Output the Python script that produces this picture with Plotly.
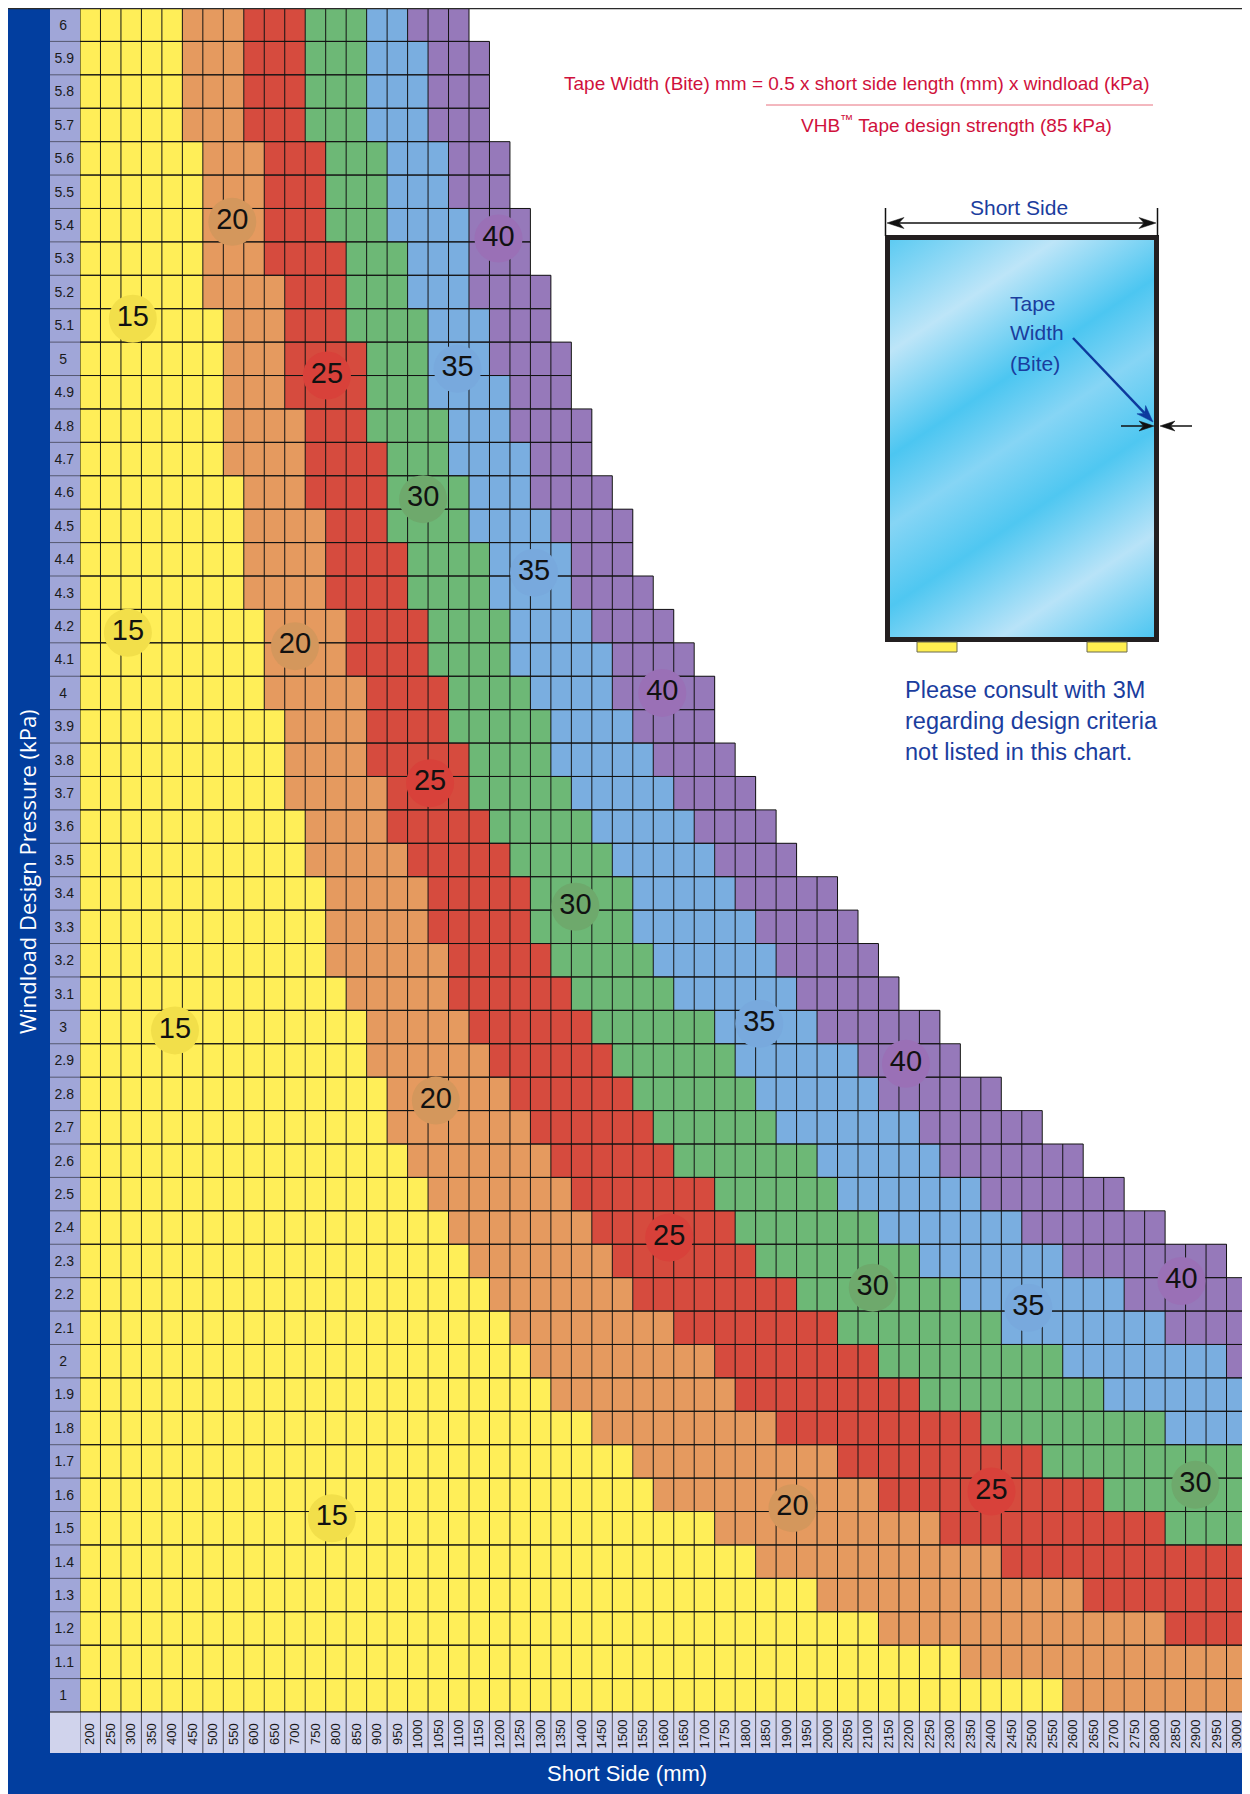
import base64
import plotly.graph_objects as go

# ---------------- data ----------------
short_side = [200, 250, 300, 350, 400, 450, 500, 550, 600, 650, 700, 750, 800, 850, 900, 950,
              1000, 1050, 1100, 1150, 1200, 1250, 1300, 1350, 1400, 1450, 1500, 1550, 1600, 1650,
              1700, 1750, 1800, 1850, 1900, 1950, 2000, 2050, 2100, 2150, 2200, 2250, 2300, 2350,
              2400, 2450, 2500, 2550, 2600, 2650, 2700, 2750, 2800, 2850, 2900, 2950, 3000]

pressure = [6.0, 5.9, 5.8, 5.7, 5.6, 5.5, 5.4, 5.3, 5.2, 5.1,
            5.0, 4.9, 4.8, 4.7, 4.6, 4.5, 4.4, 4.3, 4.2, 4.1,
            4.0, 3.9, 3.8, 3.7, 3.6, 3.5, 3.4, 3.3, 3.2, 3.1,
            3.0, 2.9, 2.8, 2.7, 2.6, 2.5, 2.4, 2.3, 2.2, 2.1,
            2.0, 1.9, 1.8, 1.7, 1.6, 1.5, 1.4, 1.3, 1.2, 1.1,
            1.0]

tape_widths = [15, 20, 25, 30, 35, 40]

# last short side (mm) of each tape-width band, per pressure row (top row = 6 kPa)
max15 = [400, 400, 400, 400, 450, 450, 450, 450, 450, 500,
         500, 500, 500, 500, 550, 550, 550, 550, 600, 600,
         600, 650, 650, 650, 700, 700, 750, 750, 750, 800,
         850, 850, 900, 900, 950, 1000, 1050, 1100, 1150, 1200,
         1250, 1300, 1400, 1500, 1550, 1700, 1800, 1950, 2100, 2300,
         2550]
max20 = [550, 550, 550, 550, 600, 600, 600, 600, 650, 650,
         650, 650, 700, 700, 700, 750, 750, 750, 800, 800,
         850, 850, 850, 900, 900, 950, 1000, 1000, 1050, 1050,
         1100, 1150, 1200, 1250, 1300, 1350, 1400, 1450, 1500, 1600,
         1700, 1750, 1850, 2000, 2100, 2250, 2400, 2600, 2800, 3000,
         3000]
max25 = [700, 700, 700, 700, 750, 750, 750, 800, 800, 800,
         850, 850, 850, 900, 900, 900, 950, 950, 1000, 1000,
         1050, 1050, 1100, 1100, 1150, 1200, 1250, 1250, 1300, 1350,
         1400, 1450, 1500, 1550, 1600, 1700, 1750, 1800, 1900, 2000,
         2100, 2200, 2350, 2500, 2650, 2800, 3000, 3000, 3000, 3000,
         3000]
max30 = [850, 850, 850, 850, 900, 900, 900, 950, 950, 1000,
         1000, 1000, 1050, 1050, 1100, 1100, 1150, 1150, 1200, 1200,
         1250, 1300, 1300, 1350, 1400, 1450, 1500, 1500, 1550, 1600,
         1700, 1750, 1800, 1850, 1950, 2000, 2100, 2200, 2300, 2400,
         2550, 2650, 2800, 3000, 3000, 3000, 3000, 3000, 3000, 3000,
         3000]
max35 = [950, 1000, 1000, 1000, 1050, 1050, 1100, 1100, 1100, 1150,
         1150, 1200, 1200, 1250, 1250, 1300, 1350, 1350, 1400, 1450,
         1450, 1500, 1550, 1600, 1650, 1700, 1750, 1800, 1850, 1900,
         1950, 2050, 2100, 2200, 2250, 2350, 2450, 2550, 2700, 2800,
         2950, 3000, 3000, 3000, 3000, 3000, 3000, 3000, 3000, 3000,
         3000]
max40 = [1100, 1150, 1150, 1150, 1200, 1200, 1250, 1250, 1300, 1300,
         1350, 1350, 1400, 1400, 1450, 1500, 1500, 1550, 1600, 1650,
         1700, 1700, 1750, 1800, 1850, 1900, 2000, 2050, 2100, 2150,
         2250, 2300, 2400, 2500, 2600, 2700, 2800, 2950, 3000, 3000,
         3000, 3000, 3000, 3000, 3000, 3000, 3000, 3000, 3000, 3000,
         3000]

# circled band labels
label_text = ["15", "20", "40", "25", "35", "30", "35", "15", "20", "40", "25", "30",
              "35", "15", "40", "20", "25", "30", "35", "40", "15", "20", "25", "30"]
label_x = [304, 547, 1197, 778, 1097, 1013, 1284, 292, 700, 1597, 1030, 1385,
           1834, 407, 2192, 1044, 1614, 2111, 2491, 2865, 790, 1915, 2401, 2899]
label_y = [5.12, 5.41, 5.36, 4.95, 4.97, 4.58, 4.36, 4.18, 4.14, 4.00, 3.73, 3.36,
           3.01, 2.99, 2.89, 2.78, 2.37, 2.22, 2.16, 2.24, 1.53, 1.56, 1.61, 1.63]

# ---------------- styles ----------------
cell_colors = ["#FFEE58", "#E59A5F", "#D64B3E", "#6DB876", "#7AAEE0", "#9679BA"]
circle_colors = {"15": "#F2DF4A", "20": "#D4975C", "25": "#D8413A",
                 "30": "#6EA96C", "35": "#78A9DD", "40": "#9A70B6"}
NARROW = "Liberation Sans Narrow, Arial Narrow, Liberation Sans, sans-serif"
REG = "Liberation Sans, Arial, sans-serif"
BLUE_FRAME = "#023E9F"
TEXT_BLUE = "#1A3D9E"
CRIMSON = "#D0113C"

# the page adds an 8 px body margin; the figure itself is 8 px smaller
OFF = 8
W, H = 1242, 1786
L, R, T, B = 72, 1239, 0, 1704


def px(xr):
    """reference-page x pixel -> paper x"""
    return (xr - OFF - L) / (R - L)


def py(yr):
    """reference-page y pixel -> paper y"""
    return (B - (yr - OFF)) / (B - T)


# ---------------- build matrix ----------------
bounds = [max15, max20, max25, max30, max35, max40]
z_rows = []
for i, p in enumerate(pressure):
    row = []
    for s in short_side:
        cat = None
        for k, b in enumerate(bounds):
            if s <= b[i]:
                cat = k
                break
        row.append(cat)
    z_rows.append(row)

y_asc = pressure[::-1]
z_asc = z_rows[::-1]

cs = []
n = len(cell_colors)
for k, c in enumerate(cell_colors):
    cs.append([k / n, c])
    cs.append([(k + 1) / n, c])

fig = go.Figure()
fig.add_trace(go.Heatmap(
    x=short_side, y=y_asc, z=z_asc, colorscale=cs, zmin=-0.5, zmax=n - 0.5,
    showscale=False, hoverinfo="skip"))

# grid lines only over coloured cells
hx, hy = [], []
half_x = (short_side[1] - short_side[0]) / 2
half_y = round((pressure[0] - pressure[1]) / 2, 3)
for i, p in enumerate(pressure):
    right = max40[i] + half_x
    for yy in (p - half_y, p + half_y):
        hx += [short_side[0] - half_x, right, None]
        hy += [yy, yy, None]
    for s in short_side:
        if s <= max40[i]:
            hx += [s - half_x, s - half_x, None]
            hy += [p - half_y, p + half_y, None]
    hx += [right, right, None]
    hy += [p - half_y, p + half_y, None]
fig.add_trace(go.Scatter(x=hx, y=hy, mode="lines", line=dict(color="#141414", width=1),
                         hoverinfo="skip", showlegend=False))

fig.add_trace(go.Scatter(
    x=label_x, y=label_y, mode="markers+text", text=label_text,
    textposition="middle center",
    marker=dict(size=48, color=[circle_colors[t] for t in label_text], line=dict(width=0)),
    textfont=dict(family=NARROW, size=29, color="#111111"),
    hoverinfo="skip", showlegend=False, cliponaxis=False))

# ---------------- frame & label bands ----------------
shapes = []
shapes.append(dict(type="rect", xref="paper", yref="paper", x0=px(50), x1=0, y0=0, y1=1,
                   fillcolor="#A0A6D8", line=dict(width=0), layer="below"))
shapes.append(dict(type="rect", xref="paper", yref="paper", x0=px(50), x1=1, y0=py(1753), y1=0,
                   fillcolor="#D0D3EC", line=dict(width=0), layer="below"))
shapes.append(dict(type="rect", xref="paper", yref="paper", x0=px(8), x1=px(50), y0=py(1800), y1=py(8),
                   fillcolor=BLUE_FRAME, line=dict(width=0), layer="below"))
shapes.append(dict(type="rect", xref="paper", yref="paper", x0=px(8), x1=px(1247.5), y0=py(1800), y1=py(1753),
                   fillcolor=BLUE_FRAME, line=dict(width=0), layer="below"))
shapes.append(dict(type="line", xref="paper", yref="paper", x0=px(8), x1=px(1247.5), y0=py(8.6), y1=py(8.6),
                   line=dict(color="#2a2a2a", width=1.5), layer="above"))
shapes.append(dict(type="line", xref="paper", yref="paper", x0=px(1247.5), x1=px(1247.5), y0=py(8), y1=py(1753),
                   line=dict(color="#2a2a2a", width=1.5), layer="above"))
for p in pressure:
    shapes.append(dict(type="line", xref="paper", yref="y", x0=px(50), x1=0,
                       y0=p + half_y, y1=p + half_y, line=dict(color="#555870", width=1), layer="below"))
for s in short_side + [short_side[-1] + 2 * half_x]:
    shapes.append(dict(type="line", xref="x", yref="paper", x0=s - half_x, x1=s - half_x,
                       y0=py(1753), y1=0, line=dict(color="#4a4a58", width=1), layer="below"))
shapes.append(dict(type="line", xref="paper", yref="paper", x0=px(50), x1=1, y0=0, y1=0,
                   line=dict(color="#111111", width=1.2), layer="above"))

# formula fraction line
shapes.append(dict(type="line", xref="paper", yref="paper", x0=px(766), x1=px(1153), y0=py(105), y1=py(105),
                   line=dict(color="#E8707E", width=1), layer="above"))

# ---------------- diagram ----------------
shapes.append(dict(type="line", xref="paper", yref="paper", x0=px(885.5), x1=px(885.5), y0=py(236), y1=py(208),
                   line=dict(color="#111111", width=1.5), layer="above"))
shapes.append(dict(type="line", xref="paper", yref="paper", x0=px(1157.5), x1=px(1157.5), y0=py(236), y1=py(208),
                   line=dict(color="#111111", width=1.5), layer="above"))
for x0 in (917, 1087):
    shapes.append(dict(type="rect", xref="paper", yref="paper", x0=px(x0), x1=px(x0 + 40),
                       y0=py(652), y1=py(642), fillcolor="#FFEF50", line=dict(color="#6b6b50", width=1),
                       layer="above"))


def arrow(x0, y0, x1, y1, color, width, head_len, head_w):
    """line from (x0,y0) to tip (x1,y1) in reference-page pixels, with a barbed head"""
    dx, dy = x1 - x0, y1 - y0
    ln = (dx * dx + dy * dy) ** 0.5
    ux, uy = dx / ln, dy / ln
    nx, ny = -uy, ux
    bx, by = x1 - ux * head_len, y1 - uy * head_len
    mx, my = x1 - ux * head_len * 0.7, y1 - uy * head_len * 0.7
    out = [dict(type="line", xref="paper", yref="paper", x0=px(x0), y0=py(y0), x1=px(mx), y1=py(my),
                line=dict(color=color, width=width), layer="above")]
    pts = [(x1, y1), (bx + nx * head_w, by + ny * head_w), (mx, my), (bx - nx * head_w, by - ny * head_w)]
    path = "M " + " L ".join(f"{px(a):.5f},{py(b):.5f}" for a, b in pts) + " Z"
    out.append(dict(type="path", xref="paper", yref="paper", path=path, fillcolor=color,
                    line=dict(color=color, width=0.5), layer="above"))
    return out


shapes += arrow(1020, 223, 887, 223, "#111111", 1.5, 17, 5.5)
shapes += arrow(1020, 223, 1156, 223, "#111111", 1.5, 17, 5.5)
shapes += arrow(1073, 338, 1153, 422, "#0D3A9E", 2.5, 17, 6)
shapes += arrow(1121, 426, 1154, 426, "#111111", 1.5, 15, 5)
shapes += arrow(1192, 426, 1160, 426, "#111111", 1.5, 15, 5)

svg = '''<svg xmlns="http://www.w3.org/2000/svg" width="274" height="407" viewBox="0 0 274 407" preserveAspectRatio="none">
<defs><linearGradient id="g" x1="0" y1="0" x2="0.54" y2="1.2">
<stop offset="0" stop-color="#5ACAF2"/>
<stop offset="0.2" stop-color="#BDE5F8"/>
<stop offset="0.38" stop-color="#4CC6F1"/>
<stop offset="0.5" stop-color="#86D5F5"/>
<stop offset="0.64" stop-color="#4FC7F1"/>
<stop offset="0.82" stop-color="#B8E3F8"/>
<stop offset="1" stop-color="#4CC6F1"/>
</linearGradient></defs>
<rect x="2.5" y="2.5" width="269" height="402" fill="url(#g)" stroke="#231F20" stroke-width="5"/>
</svg>'''
img_src = "data:image/svg+xml;base64," + base64.b64encode(svg.encode()).decode()


def note(x, y, text, size, color, family=REG, xanchor="left", angle=0):
    return dict(x=px(x), y=py(y), xref="paper", yref="paper", showarrow=False, text=text,
                textangle=angle, font=dict(family=family, size=size, color=color),
                xanchor=xanchor, yanchor="middle")


annotations = [
    note(857, 83, "Tape Width (Bite) mm = 0.5 x short side length (mm) x windload (kPa)",
         19, CRIMSON, NARROW, "center"),
    note(956, 124, "VHB<sup>™</sup> Tape design strength (85 kPa)", 19, CRIMSON, NARROW, "center"),
    note(1019, 207, "Short Side", 21, TEXT_BLUE, REG, "center"),
    note(1008, 304, "Tape", 21, TEXT_BLUE),
    note(1008, 333, "Width", 21, TEXT_BLUE),
    note(1008, 363, "(Bite)", 21, TEXT_BLUE),
    note(903, 690, "Please consult with 3M", 23.5, TEXT_BLUE),
    note(903, 721, "regarding design criteria", 23.5, TEXT_BLUE),
    note(903, 752, "not listed in this chart.", 23.5, TEXT_BLUE),
    note(27, 872, "Windload Design Pressure (kPa)", 22, "white", "Open Sans, sans-serif", "center", -90),
    note(627, 1773, "Short Side (mm)", 22, "white", NARROW, "center"),
]

# tick label text (padded so labels sit centred in their label bands)
x_ticktext = [str(s) + ("\u00a0" if s < 1000 else "") for s in short_side]
y_ticktext = [f"{p:g}" + ("\u2002" if p == int(p) else "") for p in pressure]

fig.update_layout(
    width=W, height=H, autosize=False,
    margin=dict(l=L, r=W - R, t=T, b=H - B, pad=0),
    paper_bgcolor="white", plot_bgcolor="white",
    showlegend=False,
    shapes=shapes, annotations=annotations,
    images=[dict(source=img_src, xref="paper", yref="paper", x=px(885), y=py(235),
                 sizex=px(1159) - px(885), sizey=py(235) - py(642),
                 xanchor="left", yanchor="top", sizing="stretch", layer="above")],
    xaxis=dict(range=[short_side[0] - half_x, short_side[-1] + half_x], showgrid=False, zeroline=False,
               tickmode="array", tickvals=short_side, ticktext=x_ticktext,
               tickangle=-90, ticks="", showline=False, ticklabelstandoff=4,
               tickfont=dict(family=NARROW, size=13, color="#1a1a1a")),
    yaxis=dict(range=[pressure[-1] - half_y, pressure[0] + half_y], showgrid=False, zeroline=False,
               tickmode="array", tickvals=pressure, ticktext=y_ticktext,
               ticks="", showline=False, ticklabelstandoff=5,
               tickfont=dict(family=NARROW, size=14, color="#1a1a1a")),
)

fig.write_html("out.html",
               post_script="document.documentElement.style.overflow='hidden';"
                           "document.body.style.overflow='hidden';")
